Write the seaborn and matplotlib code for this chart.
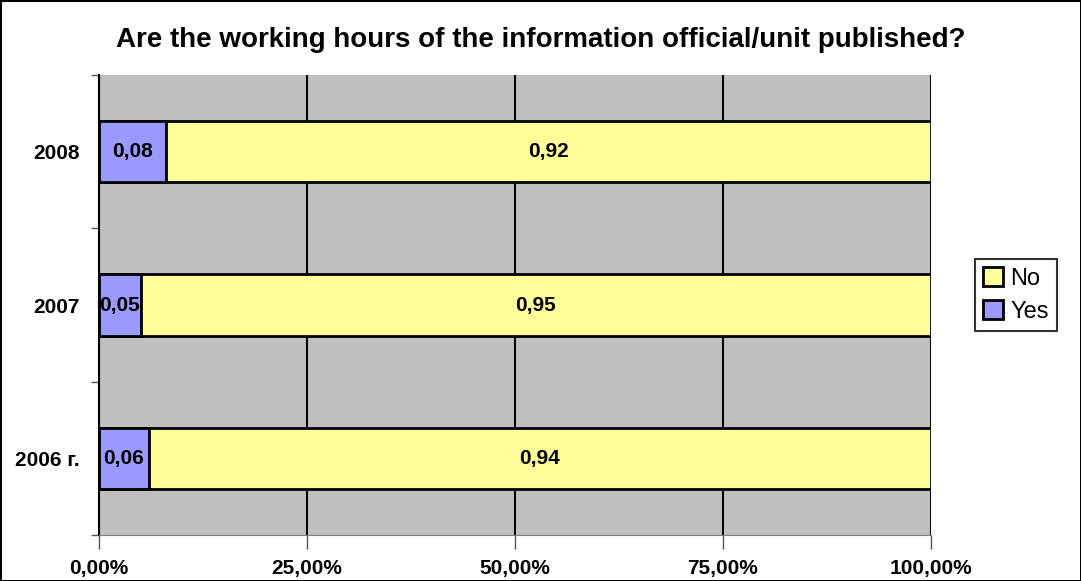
import pandas as pd
import matplotlib.pyplot as plt
from matplotlib.ticker import FuncFormatter, FixedLocator
import seaborn as sns

# Chart data
years = ['2008', '2007', '2006 г.']
yes_vals = [0.08, 0.05, 0.06]
no_vals = [0.92, 0.95, 0.94]

df = pd.DataFrame({'year': years, 'Yes': yes_vals, 'No': no_vals})
df['total'] = df['Yes'] + df['No']

sns.set_style('white')
plt.rcParams['font.family'] = ['Liberation Sans', 'DejaVu Sans']
plt.rcParams['text.color'] = 'black'

fig = plt.figure(figsize=(10.81, 5.81), dpi=100)
fig.patch.set_edgecolor('black')
fig.patch.set_linewidth(2)
ax = fig.add_axes([0.0916, 0.079, 0.7695, 0.792])
ax.set_facecolor('#C0C0C0')

# stacked: draw total (No) first, Yes on top
sns.barplot(data=df, y='year', x='total', order=years, color='#FFFF99',
            saturation=1, width=0.4, edgecolor='black', linewidth=2, ax=ax,
            label='No', orient='h', zorder=3)
sns.barplot(data=df, y='year', x='Yes', order=years, color='#9999FF',
            saturation=1, width=0.4, edgecolor='black', linewidth=2, ax=ax,
            label='Yes', orient='h', zorder=4)

# labels
no_cont, yes_cont = ax.containers[0], ax.containers[1]
for bar, y, n in zip(no_cont, yes_vals, no_vals):
    cy = bar.get_y() + bar.get_height() / 2
    ax.text(y + n / 2, cy, f'{n:.2f}'.replace('.', ','), ha='center',
            va='center', fontsize=15, fontweight='bold', color='black', zorder=5)
for bar, y in zip(yes_cont, yes_vals):
    cy = bar.get_y() + bar.get_height() / 2
    ax.text(y / 2, cy, f'{y:.2f}'.replace('.', ','), ha='center',
            va='center', fontsize=15, fontweight='bold', color='black', zorder=5)

ax.set_xlim(0, 1)
ax.set_ylim(2.5, -0.5)
ax.set_xticks([0, 0.25, 0.5, 0.75, 1.0])
ax.xaxis.set_major_formatter(FuncFormatter(lambda v, p: f'{v*100:.2f}%'.replace('.', ',')))
ax.grid(axis='x', color='black', linewidth=1.5, zorder=1)
ax.set_axisbelow(True)
ax.yaxis.set_minor_locator(FixedLocator([-0.5, 0.5, 1.5, 2.5]))
ax.tick_params(axis='y', which='major', length=0, pad=14, labelsize=15, labelcolor='black')
ax.tick_params(axis='y', which='minor', length=6, width=1, color='#555555', left=True)
ax.tick_params(axis='x', length=10, width=1, color='#555555', bottom=True, pad=7,
               labelsize=15, labelcolor='black')
for lab in ax.get_xticklabels() + ax.get_yticklabels():
    lab.set_fontweight('bold')
ax.set_xlabel('')
ax.set_ylabel('')

for s in ['top', 'right']:
    ax.spines[s].set_visible(False)
ax.spines['left'].set_color('black')
ax.spines['left'].set_linewidth(1.5)
ax.spines['bottom'].set_color('#808080')

fig.text(0.5, 0.931, 'Are the working hours of the information official/unit published?',
         ha='center', va='center', fontsize=20, fontweight='bold', color='black')

h, l = ax.get_legend_handles_labels()
leg = ax.legend(h, l, loc='center left', bbox_to_anchor=(1.053, 0.522),
                fontsize=17, frameon=True, fancybox=False, edgecolor='black',
                handlelength=0.85, handleheight=0.85, handletextpad=0.3,
                borderpad=0.35, labelspacing=0.45, borderaxespad=0)
leg.get_frame().set_linewidth(1.5)
for t in leg.get_texts():
    t.set_color('black')

fig.savefig('out.png', dpi=100)
